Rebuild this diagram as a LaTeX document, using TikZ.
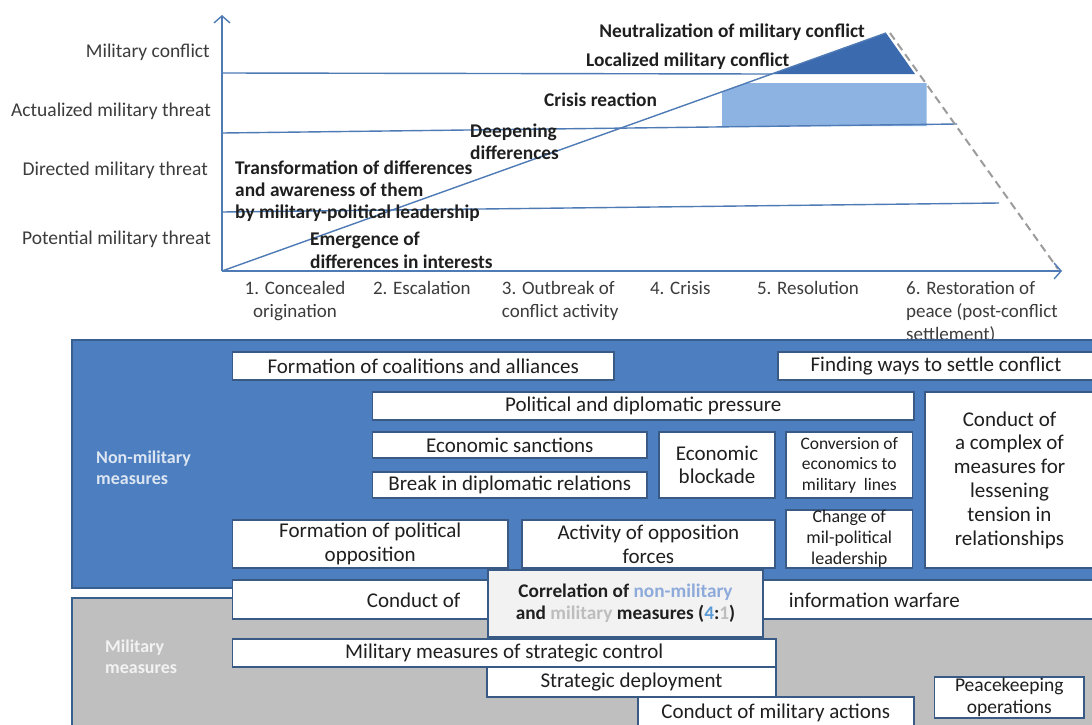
\documentclass[tikz,border=0pt]{standalone}
\usepackage{fontspec}
\setmainfont{Carlito}
\usetikzlibrary{arrows.meta}
\definecolor{axisblue}{HTML}{4E7AB5}
\definecolor{panelblue}{HTML}{4C7EC0}
\definecolor{panelborder}{HTML}{38608F}
\definecolor{boxborder}{HTML}{3A5A86}
\definecolor{darktri}{HTML}{3C6AAE}
\definecolor{lightrect}{HTML}{8DB3E2}
\definecolor{panelgray}{HTML}{BFBFBF}
\definecolor{txtdark}{HTML}{1F1F1F}
\definecolor{txtreg}{HTML}{3C3C3C}
\definecolor{corrfill}{HTML}{F2F2F2}
\definecolor{nmblue}{HTML}{8EAADB}
\definecolor{fourblue}{HTML}{5B9BD5}
\definecolor{mgray}{HTML}{BDBDBD}
\definecolor{dashgray}{HTML}{9C9C9C}
\definecolor{nmlabel}{HTML}{DCE6F2}
\definecolor{mlabel}{HTML}{F2F2F2}
\begin{document}
\begin{tikzpicture}[x=1pt,y=-1pt,
  axl/.style={draw=axisblue,line width=1.4pt},
  ylab/.style={anchor=east,inner sep=0pt,text=txtreg,font=\fontsize{19.5}{22}\selectfont},
  blab/.style={anchor=west,inner sep=0pt,align=left,text=txtdark,font=\bfseries\fontsize{19.4}{22}\selectfont},
  xlab/.style={anchor=north west,inner sep=0pt,align=left,text=txtreg,font=\fontsize{19}{23}\selectfont},
  box/.style={draw=boxborder,line width=1.8pt,fill=white,inner sep=0pt,align=center,text=txtdark,font=\fontsize{21}{24}\selectfont},
  sbox/.style={box,font=\fontsize{17.5}{20.5}\selectfont},
  tlab/.style={inner sep=0pt,text=txtdark,font=\fontsize{21}{24}\selectfont},
  panel/.style={draw=panelborder,line width=1.8pt},
  arr/.style={-{Straight Barb[length=7pt,width=16pt,line width=1.4pt]}},
  plab/.style={anchor=west,inner sep=0pt,align=left,font=\bfseries\fontsize{18}{21}\selectfont}
]
\useasboundingbox (0,0) rectangle (1092,724);
\fill[white] (0,0) rectangle (1092,724);

% ---------- chart ----------
\coordinate (O) at (222,271);
\coordinate (ytop) at (222,15);
\coordinate (xend) at (1062,271);
\coordinate (l1a) at (222,73);
\coordinate (l1b) at (772,74);
\coordinate (l2a) at (222,133);
\coordinate (l2b) at (957,124);
\coordinate (l3a) at (222,212);
\coordinate (l3b) at (999,203);
\coordinate (apex) at (886,33);
\coordinate (trir) at (915,74);
\coordinate (dA) at (890,33);
\coordinate (dB) at (1058,269);

\fill[lightrect] (722,126) -- (722,91.8) -- (746.5,83) -- (926.5,83) -- (926.5,126) -- cycle;
\fill[darktri] (l1b) -- (apex) -- (trir) -- cycle;

\draw[axl] (l1a) -- (l1b);
\draw[axl] (l2a) -- (l2b);
\draw[axl] (l3a) -- (l3b);
\draw[axl] (O) -- (apex);
\draw[dashgray,line width=2pt,dash pattern=on 8pt off 5pt] (dA) -- (dB);
\draw[axl,arr] (O) -- (ytop);
\draw[axl,arr] (O) -- (xend);

\node[ylab] (y1) at (210,52) {Military conflict};
\node[ylab] (y2) at (211,111) {Actualized military threat};
\node[ylab] (y3) at (208,170) {Directed military threat};
\node[ylab] (y4) at (211,239) {Potential military threat};

\node[blab,anchor=east] (neut) at (865,32) {Neutralization of military conflict};
\node[blab] (loc) at (586,61) {Localized military conflict};
\node[blab] (cris) at (544,100) {Crisis reaction};
\node[blab] (deep) at (470,142) {Deepening\\differences};
\node[blab] (trans) at (235,191.5) {Transformation of differences\\and awareness of them\\by military-political leadership};
\node[blab,font=\bfseries\fontsize{19.4}{23}\selectfont] (emer) at (310,250.5) {Emergence of\\differences in interests};

\node[xlab,anchor=north,align=center] (x1) at (295,281.5) {1. Concealed\\origination};
\node[xlab] (x2) at (372.8,281.5) {2. Escalation};
\node[xlab] (x3) at (501.7,281.5) {3. Outbreak of\\conflict activity};
\node[xlab] (x4) at (649.8,281.5) {4. Crisis};
\node[xlab] (x5) at (756.8,281.5) {5. Resolution};
\node[xlab] (x6) at (906,281.5) {6. Restoration of\\peace (post-conflict\\settlement)};

% ---------- panels ----------
\draw[panel,fill=panelblue] (72,340) rectangle (1100,588);
\draw[panel,fill=panelgray] (72,598) rectangle (1100,740);
\node[plab,text=nmlabel] (nonmil) at (96,468) {Non-military\\measures};
\node[plab,text=mlabel] (mil) at (105,656.5) {Military\\measures};

% ---------- boxes ----------
\node[box,minimum width=381.5,minimum height=28] (b1) at (423.25,366) {Formation of coalitions and alliances};
\node[box,minimum width=316,minimum height=28] (b2) at (936,366) {Finding ways to settle conflict};
\node[box,minimum width=541.5,minimum height=28] (b3) at (643.25,406) {Political and diplomatic pressure};
\node[box,minimum width=274.5,minimum height=26] (b4) at (509.75,445) {Economic sanctions};
\node[box,minimum width=274.5,minimum height=26] (b5) at (509.75,485) {Break in diplomatic relations};
\node[box,minimum width=116,minimum height=66,font=\fontsize{21}{23}\selectfont] (b6) at (717,465) {Economic\\blockade};
\node[sbox,minimum width=126.5,minimum height=66] (b7) at (849.25,465) {Conversion of\\economics to\\military\ \ lines};
\node[box,minimum width=169,minimum height=176,font=\fontsize{21}{23.8}\selectfont] (b8) at (1009.5,480) {Conduct of\\a complex of\\measures for\\lessening\\tension in\\relationships};
\node[box,minimum width=275.5,minimum height=48] (b9) at (370.25,544) {Formation of political\\opposition};
\node[box,minimum width=253.3,minimum height=48] (b10) at (648.35,544) {Activity of opposition\\forces};
\node[sbox,minimum width=126.5,minimum height=58,font=\fontsize{18}{21}\selectfont] (b11) at (849.25,539) {Change of\\mil-political\\leadership};

\node[box,minimum width=867.5,minimum height=39] (b12) at (666.25,599.5) {};
\node[tlab] (b12a) at (413.6,600) {Conduct of};
\node[tlab] (b12b) at (874.3,600) {information warfare};

\node[box,fill=corrfill,minimum width=275,minimum height=67,font=\bfseries\fontsize{19.3}{22}\selectfont] (corr) at (625.5,603.5)
  {Correlation of \textcolor{nmblue}{non-military}\\and \textcolor{mgray}{military} measures (\textcolor{fourblue}{4}:\textcolor{mgray}{1})};

\node[box,minimum width=543.5,minimum height=28] (b14) at (504.25,653) {Military measures of strategic control};
\node[box,minimum width=289,minimum height=30] (b15) at (631.5,682) {Strategic deployment};
\node[box,minimum width=275.6,minimum height=32] (b16) at (775.8,713) {Conduct of military actions};
\node[box,minimum width=149.5,minimum height=41,font=\fontsize{19.5}{22}\selectfont] (b17) at (1009.25,697.5) {Peacekeeping\\operations};
\end{tikzpicture}
\end{document}
